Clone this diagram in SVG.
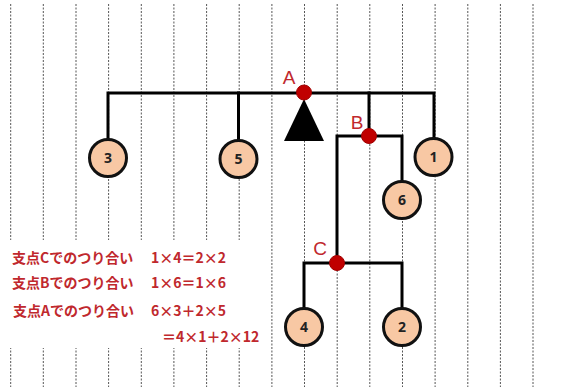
<svg xmlns="http://www.w3.org/2000/svg" width="562" height="387" viewBox="0 0 562 387">
<style>
.grid line{stroke:#555;stroke-width:1;stroke-dasharray:2,1.5}
.beam{stroke:#000;stroke-width:3;fill:none;stroke-linecap:square}
.w{fill:#F8C8A4;stroke:#111;stroke-width:3}
.n{font-family:"Open Sans","Liberation Sans",sans-serif;font-weight:bold;font-size:14px;fill:#222;text-anchor:middle}
.pt{fill:#C00000;stroke:#A00000;stroke-width:1}
.lbl{font-family:"Liberation Sans","Noto Sans",sans-serif;font-size:19px;fill:#C0282D;text-anchor:middle}
.t{font-family:"Noto Sans CJK JP",sans-serif;font-size:14px;font-weight:bold;fill:#C0282D}
</style>
<rect width="562" height="387" fill="#fff"/>
<g class="grid">
<line x1="10.7" y1="4" x2="10.7" y2="387"/>
<line x1="43.3" y1="4" x2="43.3" y2="387"/>
<line x1="76" y1="4" x2="76" y2="387"/>
<line x1="108.6" y1="4" x2="108.6" y2="387"/>
<line x1="141.3" y1="4" x2="141.3" y2="387"/>
<line x1="173.9" y1="4" x2="173.9" y2="387"/>
<line x1="206.6" y1="4" x2="206.6" y2="387"/>
<line x1="239.2" y1="4" x2="239.2" y2="387"/>
<line x1="271.9" y1="4" x2="271.9" y2="387"/>
<line x1="304.5" y1="4" x2="304.5" y2="387"/>
<line x1="337.2" y1="4" x2="337.2" y2="387"/>
<line x1="369.8" y1="4" x2="369.8" y2="387"/>
<line x1="402.5" y1="4" x2="402.5" y2="387"/>
<line x1="435.1" y1="4" x2="435.1" y2="387"/>
<line x1="467.8" y1="4" x2="467.8" y2="387"/>
<line x1="500.4" y1="4" x2="500.4" y2="387"/>
<line x1="533" y1="4" x2="533" y2="387"/>
</g>
<rect x="0" y="240" width="268" height="108" fill="#fff"/>
<g id="connectors">
<path class="beam" d="M108,140 V93 H434 V140"/>
<path class="beam" d="M238.5,93 V141"/>
<path class="beam" d="M369,93 V136"/>
<path class="beam" d="M337,263 V136 H402 V182"/>
<path class="beam" d="M304,309 V263 H402 V309"/>
</g>
<g id="fulcrum"><polygon points="304,99 284,141 324,141" fill="#000"/></g>
<g id="pointA"><circle class="pt" cx="304" cy="92.5" r="7.5"/><text class="lbl" x="289" y="84">A</text></g>
<g id="pointB"><circle class="pt" cx="369" cy="136" r="7.5"/><text class="lbl" x="357" y="128.5">B</text></g>
<g id="pointC"><circle class="pt" cx="337" cy="263" r="7.5"/><text class="lbl" x="320" y="255">C</text></g>
<g id="w3"><circle class="w" cx="108" cy="158" r="18.5"/><text class="n" x="108" y="163">3</text></g>
<g id="w5"><circle class="w" cx="238.5" cy="159" r="18.5"/><text class="n" x="238.5" y="164">5</text></g>
<g id="w1"><circle class="w" cx="433.5" cy="157" r="18.5"/><text class="n" x="433.5" y="162">1</text></g>
<g id="w6"><circle class="w" cx="402" cy="200" r="18.5"/><text class="n" x="402" y="205">6</text></g>
<g id="w4"><circle class="w" cx="304" cy="327" r="18.5"/><text class="n" x="304" y="332">4</text></g>
<g id="w2"><circle class="w" cx="402" cy="327" r="18.5"/><text class="n" x="402" y="332">2</text></g>
<g id="equations">
<text class="t" x="12" y="263">支点Cでのつり合い</text><text class="t" x="151" y="263">1×4＝2×2</text>
<text class="t" x="12" y="288">支点Bでのつり合い</text><text class="t" x="151" y="288">1×6＝1×6</text>
<text class="t" x="13" y="316">支点Aでのつり合い</text><text class="t" x="151" y="316">6×3＋2×5</text>
<text class="t" x="162" y="342">＝4×1＋2×12</text>
</g>
</svg>
